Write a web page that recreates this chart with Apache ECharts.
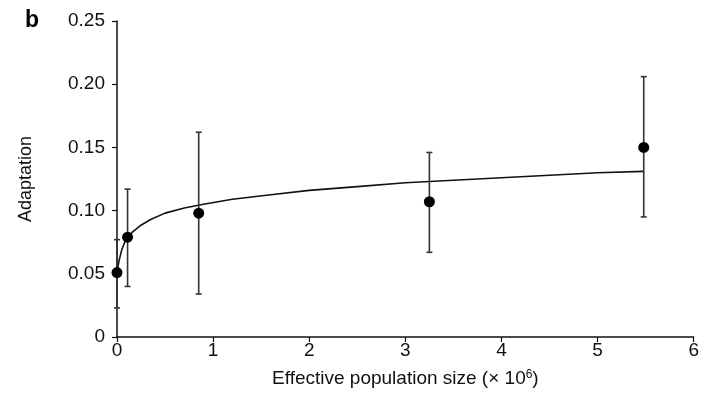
<!DOCTYPE html>
<html>
<head>
<meta charset="utf-8">
<script src="https://cdn.jsdelivr.net/npm/echarts@6/dist/echarts.min.js"></script>
<style>
  html, body { margin: 0; padding: 0; background: #fff; }
  #chart { width: 702px; height: 400px; }
</style>
</head>
<body>
<div id="chart"></div>
<script>
// measured points (x in millions)
const popSize = [0, 0.11, 0.85, 3.25, 5.48];
const adaptation = [0.051, 0.079, 0.098, 0.107, 0.150];
const errLow = [0.023, 0.040, 0.034, 0.067, 0.095];
const errHigh = [0.077, 0.117, 0.162, 0.146, 0.206];

// fitted curve
const curveX = [0, 0.02, 0.05, 0.08, 0.11, 0.16, 0.24, 0.35, 0.5, 0.7, 0.9, 1.2, 1.6, 2.0, 2.5, 3.0, 3.5, 4.0, 4.5, 5.0, 5.48];
const curveY = [0.051, 0.060, 0.069, 0.075, 0.079, 0.083, 0.088, 0.093, 0.098, 0.102, 0.105, 0.109, 0.1125, 0.116, 0.119, 0.122, 0.124, 0.126, 0.128, 0.130, 0.131];

const yTicks = ['0', '0.05', '0.10', '0.15', '0.20', '0.25'];

const chart = echarts.init(document.getElementById('chart'));
const font = 'Liberation Sans, Arial, Helvetica, sans-serif';

const errData = popSize.map((x, i) => [x, errLow[i], errHigh[i]]);

chart.setOption({
  animation: false,
  backgroundColor: '#fff',
  title: {
    text: 'b',
    left: 20,
    top: 4,
    textStyle: { fontFamily: font, fontWeight: 'bold', fontSize: 23, color: '#000' }
  },
  grid: { left: 117, right: 6, top: 21, bottom: 63 },
  xAxis: {
    type: 'value',
    min: 0, max: 6, interval: 1,
    name: '{a|Effective population size (× 10}{s|6}{a|)}',
    nameLocation: 'middle',
    nameGap: 32,
    nameTextStyle: {
      rich: {
        a: { fontFamily: font, fontSize: 19, color: '#111' },
        s: { fontFamily: font, fontSize: 12, color: '#111', verticalAlign: 'top', padding: [0, 0, 8, 0] }
      }
    },
    axisLine: { onZero: false, lineStyle: { color: '#111', width: 1.5 } },
    axisTick: { show: true, length: 5, lineStyle: { color: '#111', width: 1.2 } },
    axisLabel: { fontFamily: font, fontSize: 19, color: '#111', margin: 4 },
    splitLine: { show: false }
  },
  yAxis: {
    type: 'value',
    min: 0, max: 0.25, interval: 0.05,
    name: 'Adaptation',
    nameLocation: 'middle',
    nameGap: 82,
    nameTextStyle: { fontFamily: font, fontSize: 18, color: '#111' },
    axisLine: { show: true, lineStyle: { color: '#111', width: 1.5 } },
    axisTick: { show: true, length: 5, lineStyle: { color: '#111', width: 1.2 } },
    axisLabel: {
      fontFamily: font, fontSize: 19, color: '#111', margin: 12,
      formatter: (v) => yTicks[Math.round(v / 0.05)]
    },
    splitLine: { show: false }
  },
  series: [
    {
      type: 'line',
      data: curveX.map((x, i) => [x, curveY[i]]),
      smooth: false,
      showSymbol: false,
      lineStyle: { color: '#111', width: 1.6 },
      z: 2
    },
    {
      type: 'custom',
      data: errData,
      renderItem: function (params, api) {
        const x = api.value(0);
        const lo = api.coord([x, api.value(1)]);
        const hi = api.coord([x, api.value(2)]);
        const cap = 3;
        const style = { stroke: '#333', lineWidth: 1.6 };
        return {
          type: 'group',
          children: [
            { type: 'line', shape: { x1: lo[0], y1: lo[1], x2: hi[0], y2: hi[1] }, style: style },
            { type: 'line', shape: { x1: lo[0] - cap, y1: lo[1], x2: lo[0] + cap, y2: lo[1] }, style: style },
            { type: 'line', shape: { x1: hi[0] - cap, y1: hi[1], x2: hi[0] + cap, y2: hi[1] }, style: style }
          ]
        };
      },
      z: 3
    },
    {
      type: 'scatter',
      data: popSize.map((x, i) => [x, adaptation[i]]),
      symbol: 'circle',
      symbolSize: 11,
      itemStyle: { color: '#000', opacity: 1 },
      z: 4
    }
  ]
});
</script>
</body>
</html>
